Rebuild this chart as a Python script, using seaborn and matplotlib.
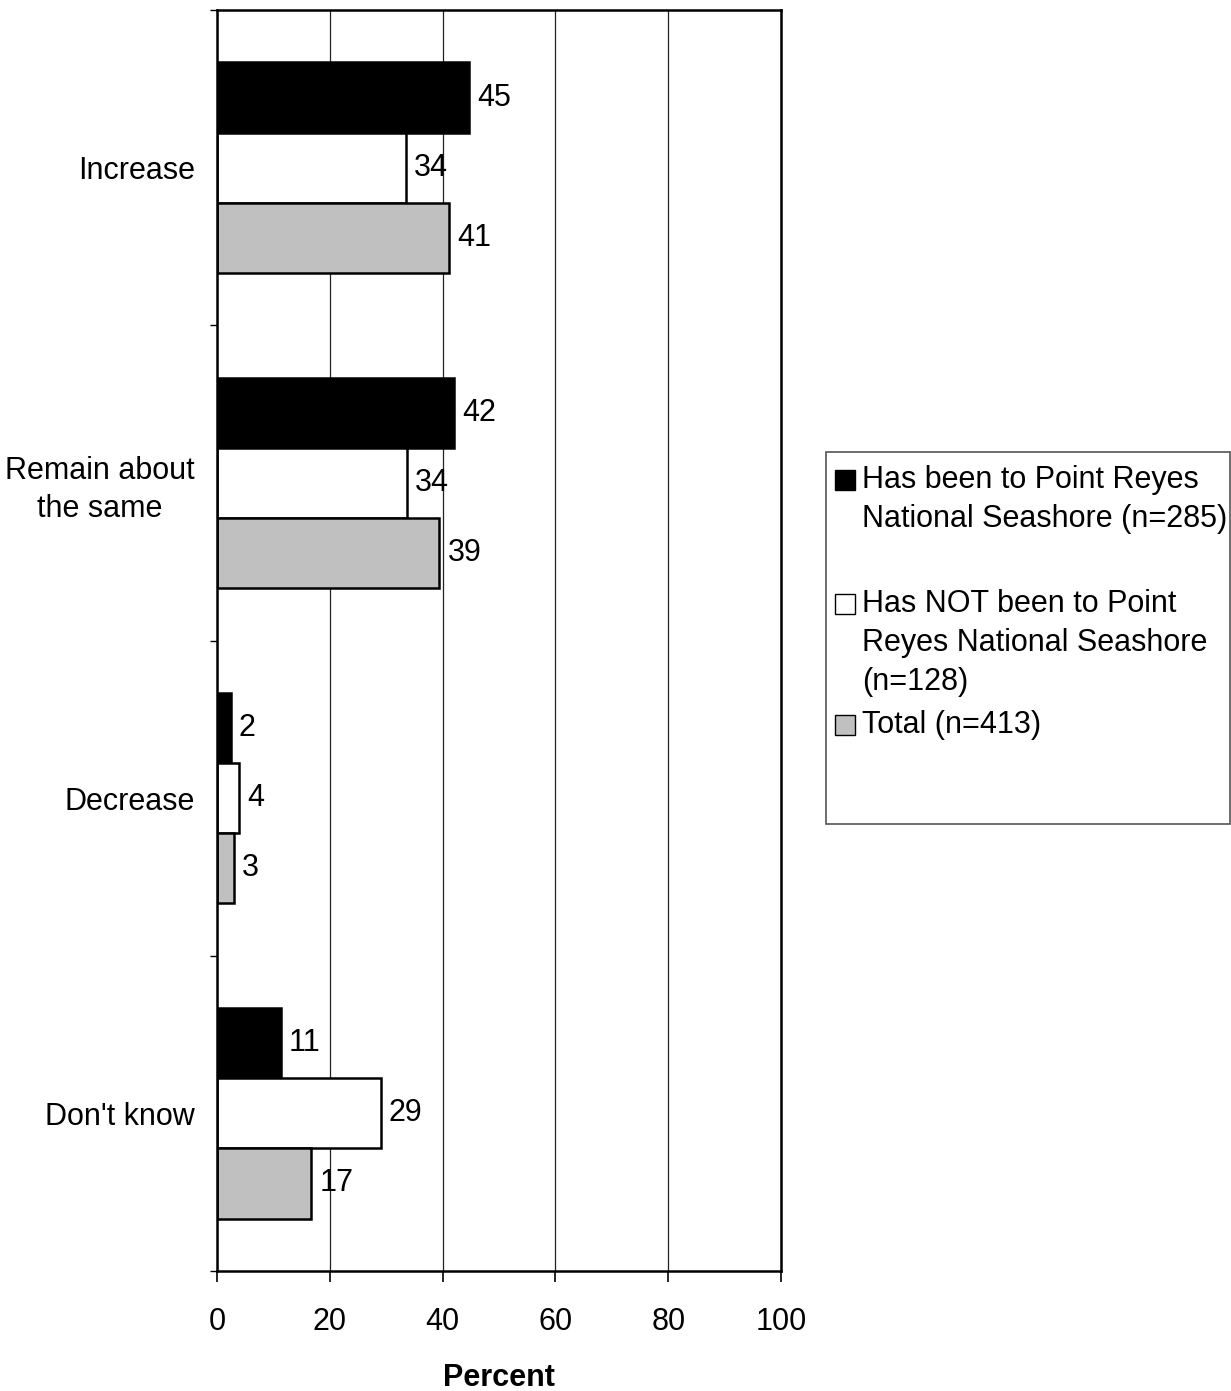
import matplotlib
matplotlib.use("Agg")
import matplotlib.pyplot as plt
import seaborn as sns
import pandas as pd
from matplotlib.patches import Rectangle
from matplotlib.ticker import FixedLocator

# Data
categories = ["Increase", "Remain about\nthe same", "Decrease", "Don't know"]
groups = [
    "Has been to Point Reyes\nNational Seashore (n=285)",
    "Has NOT been to Point\nReyes National Seashore\n(n=128)",
    "Total (n=413)",
]
has_been = [44.7, 42.0, 2.4, 11.3]
has_not_been = [33.5, 33.6, 3.9, 29.0]
total = [41.2, 39.4, 3.0, 16.7]
colors = ["#000000", "#ffffff", "#c0c0c0"]
x_ticks = [0, 20, 40, 60, 80, 100]

sns.set_theme(style="white")
plt.rcParams["font.family"] = ["Liberation Sans", "DejaVu Sans"]
plt.rcParams["text.color"] = "black"
plt.rcParams["xtick.color"] = "black"
plt.rcParams["ytick.color"] = "black"
plt.rcParams["axes.labelcolor"] = "black"
FS = 22

df = pd.DataFrame({
    "category": categories * 3,
    "group": [groups[0]] * 4 + [groups[1]] * 4 + [groups[2]] * 4,
    "value": has_been + has_not_been + total,
})

fig = plt.figure(figsize=(12.31, 13.91), dpi=100)
ax = fig.add_axes([217 / 1231, 1 - 1271 / 1391, (781 - 217) / 1231, (1271 - 10) / 1391])

sns.barplot(data=df, x="value", y="category", hue="group", orient="h",
            palette=colors, edgecolor="black", linewidth=1.8, width=0.667,
            saturation=1, legend=False, ax=ax)

ax.set_xlim(0, 100)
ax.set_ylim(3.5, -0.5)
ax.set_xticks(x_ticks)
ax.xaxis.grid(True, color="#222222", linewidth=0.9)
ax.set_axisbelow(True)

for cont in ax.containers:
    vals = [b.get_width() for b in cont]
    ax.bar_label(cont, labels=[f"{v:.0f}" for v in vals], padding=6, fontsize=FS,
                 color="black")

for s in ax.spines.values():
    s.set_visible(True)
    s.set_color("black")
    s.set_linewidth(1.8)

ax.tick_params(axis="x", which="major", direction="out", length=8, width=1.2,
               color="black", pad=18, labelsize=FS, bottom=True)
ax.tick_params(axis="y", which="major", length=0, pad=16, labelsize=FS)
ax.yaxis.set_minor_locator(FixedLocator([-0.5, 0.5, 1.5, 2.5, 3.5]))
ax.tick_params(axis="y", which="minor", direction="out", length=5, width=1.0,
               color="black", left=True)
for lbl in ax.get_yticklabels():
    lbl.set_multialignment("center")
    lbl.set_linespacing(1.35)

ax.set_ylabel("")
ax.set_xlabel("Percent", fontsize=FS, fontweight="bold", labelpad=19)

# legend box drawn by hand to follow the original spacing
fig.patches.append(Rectangle((826 / 1231, 1 - 824 / 1391), (1231 - 827) / 1231,
                             (824 - 452) / 1391, transform=fig.transFigure,
                             facecolor="white", edgecolor="#555555", linewidth=1.2))
entry_tops = [465, 589, 710]
for g, c, top in zip(groups, colors, entry_tops):
    fig.patches.append(Rectangle((835 / 1231, 1 - (top + 25) / 1391), 20 / 1231, 20 / 1391,
                                 transform=fig.transFigure, facecolor=c,
                                 edgecolor="black", linewidth=1.0))
    fig.text(862 / 1231, 1 - top / 1391, g, fontsize=FS, ha="left", va="top",
             linespacing=1.4)

fig.savefig("out.png", dpi=100)
